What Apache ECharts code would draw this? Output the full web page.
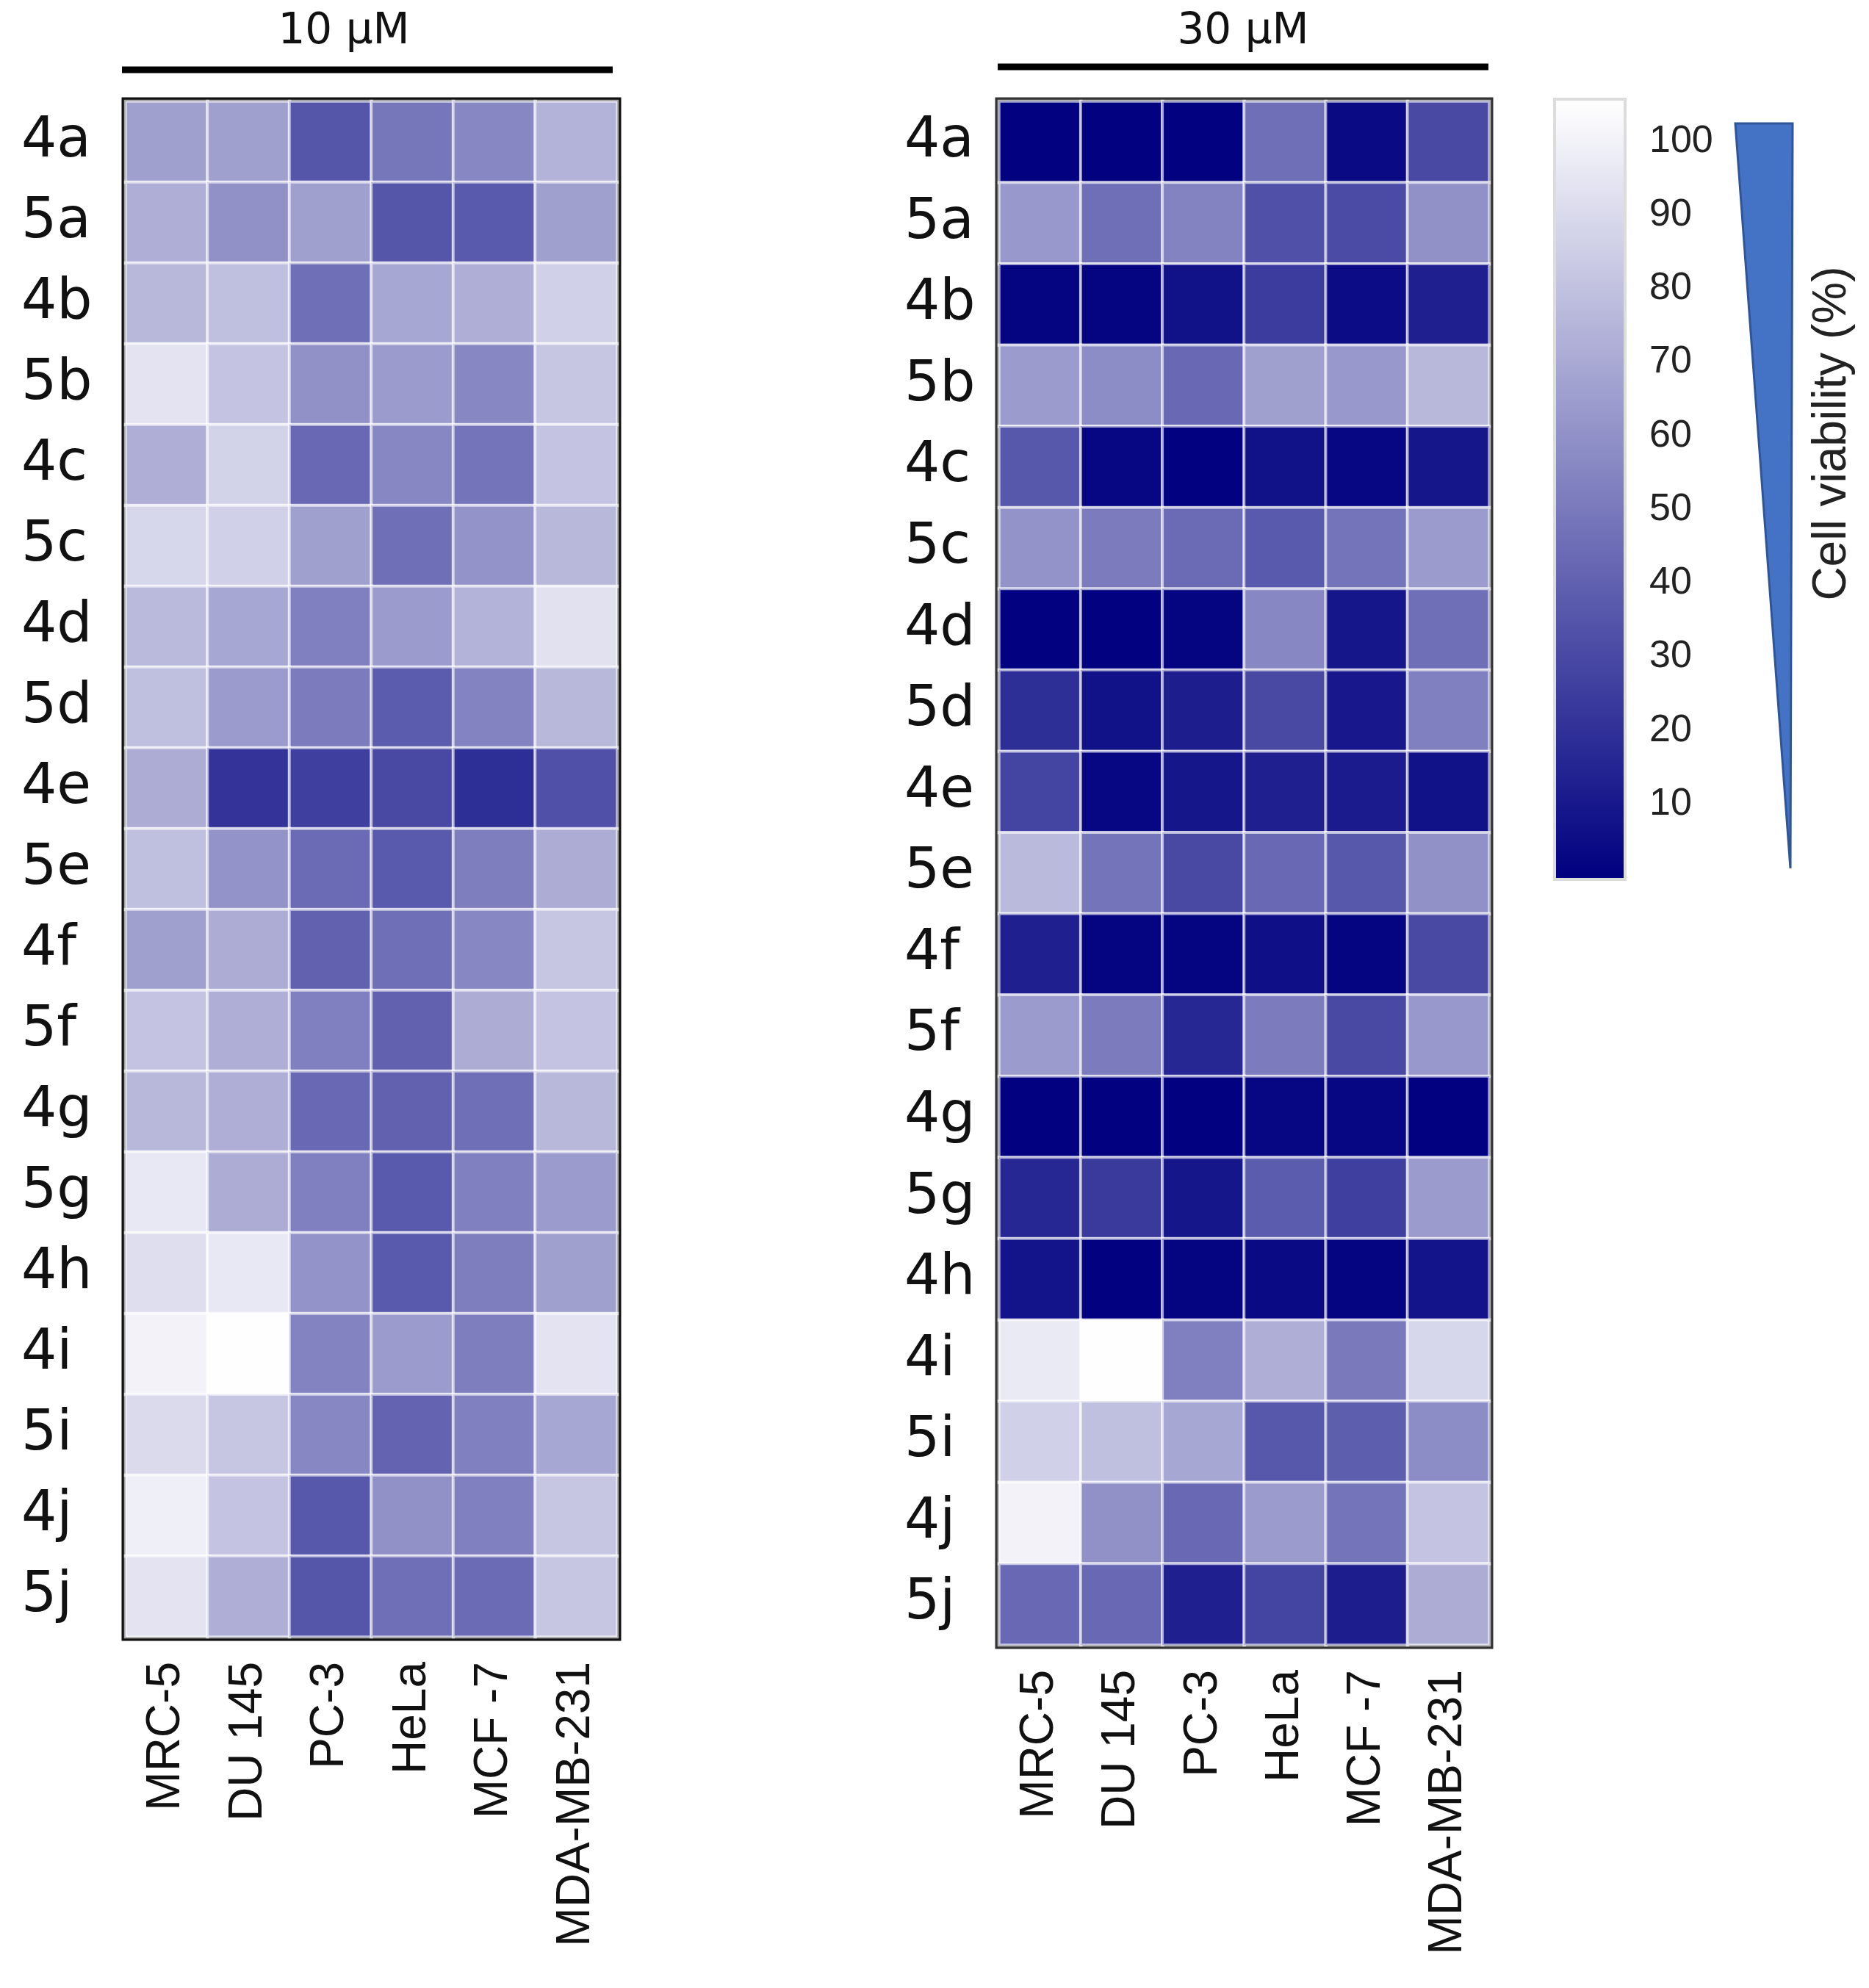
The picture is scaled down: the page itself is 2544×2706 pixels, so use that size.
<!DOCTYPE html>
<html><head><meta charset="utf-8">
<script src="https://cdn.jsdelivr.net/npm/echarts@6/dist/echarts.min.js"></script>
<style>html,body{margin:0;padding:0;background:#fff}#c{width:2544px;height:2706px}</style>
</head><body><div id="c"></div>
<script>
const compounds = ['4a','5a','4b','5b','4c','5c','4d','5d','4e','5e','4f','5f','4g','5g','4h','4i','5i','4j','5j'];
const cellLines = ['MRC-5','DU 145','PC-3','HeLa','MCF -7','MDA-MB-231'];
const panelTitles = ['10 µM', '30 µM'];
const viability10 = [
  [66,66,35,49,56,74],
  [72,60,66,35,37,66],
  [76,79,46,69,72,86],
  [94,81,60,64,56,82],
  [72,87,43,56,48,81],
  [89,86,66,46,61,76],
  [77,69,53,64,74,93],
  [79,64,51,38,54,76],
  [71,21,26,30,19,33],
  [79,61,44,37,52,71],
  [66,71,40,46,56,82],
  [81,72,53,40,71,81],
  [76,72,43,40,46,76],
  [96,71,53,37,53,64],
  [92,96,61,37,52,66],
  [100,105,54,64,52,94],
  [90,82,56,41,53,69],
  [99,81,36,60,53,82],
  [94,72,35,46,44,82]
];
const viability30 = [
  [1,1,1,46,4,30],
  [63,46,54,33,31,60],
  [2,2,7,25,5,13],
  [64,58,43,66,63,76],
  [36,3,1,7,3,9],
  [61,51,44,37,48,64],
  [1,1,2,56,9,46],
  [19,7,12,30,10,53],
  [28,3,9,13,11,7],
  [77,48,30,43,36,60],
  [13,2,2,6,2,30],
  [64,51,16,51,30,63],
  [1,1,1,3,3,1],
  [16,24,9,38,26,64],
  [8,1,2,4,2,8],
  [97,105,53,72,50,89],
  [86,79,69,36,39,58],
  [100,60,43,64,48,81],
  [43,43,13,28,12,71]
];
const scaleMin = 0, scaleMax = 105.5;
const colorbarTicks = [10,20,30,40,50,60,70,80,90,100];
const legendLabel = 'Cell viability (%)';

function toCells(m){ const out=[]; m.forEach((row,r)=>row.forEach((v,c)=>out.push([c,r,v]))); return out; }

const chart = echarts.init(document.getElementById('c'), null, {renderer:'canvas'});
const rowLabel = {fontFamily:'DejaVu Sans', fontSize:76, color:'#111', align:'left'};
const colLabel = {fontFamily:'Liberation Sans', fontSize:64, color:'#111', rotate:90, margin:34, interval:0};
const cellStyle = {borderColor:'rgba(255,255,255,0.62)', borderWidth:4};

const option = {
  backgroundColor:'#fff',
  animation:false,
  grid:[
    {left:171, top:138, width:669, height:2090, show:true, borderColor:'#111', borderWidth:11, backgroundColor:'transparent'},
    {left:1360, top:138, width:667, height:2101, show:true, borderColor:'#333', borderWidth:11, backgroundColor:'transparent'},
    {left:2118, top:137, width:92, height:1058, show:true, borderColor:'#dcdcdc', borderWidth:8, backgroundColor:'transparent'}
  ],
  xAxis:[
    {type:'category', gridIndex:0, data:cellLines, axisLine:{show:false}, axisTick:{show:false}, axisLabel:colLabel, splitLine:{show:false}},
    {type:'category', gridIndex:1, data:cellLines, axisLine:{show:false}, axisTick:{show:false}, axisLabel:colLabel, splitLine:{show:false}},
    {type:'category', gridIndex:2, data:['cb'], show:false}
  ],
  yAxis:[
    {type:'category', gridIndex:0, data:compounds, inverse:true, axisLine:{show:false}, axisTick:{show:false}, axisLabel:Object.assign({margin:142}, rowLabel)},
    {type:'category', gridIndex:1, data:compounds, inverse:true, axisLine:{show:false}, axisTick:{show:false}, axisLabel:Object.assign({margin:129}, rowLabel)},
    {type:'value', gridIndex:2, min:scaleMin, max:scaleMax, position:'left', axisLine:{show:false}, splitLine:{show:false},
      axisTick:{show:true, inside:true, length:14, customValues:colorbarTicks, lineStyle:{color:'#8a8a8a', width:3}},
      axisLabel:{show:false}},
    {type:'value', gridIndex:2, min:scaleMin, max:scaleMax, position:'right', axisLine:{show:false}, splitLine:{show:false},
      axisTick:{show:true, inside:true, length:14, customValues:colorbarTicks, lineStyle:{color:'#8a8a8a', width:3}},
      axisLabel:{show:true, customValues:colorbarTicks, margin:35, fontFamily:'Liberation Sans', fontSize:52, color:'#222'}}
  ],
  visualMap:{type:'continuous', show:false, min:scaleMin, max:scaleMax, seriesIndex:[0,1], inRange:{color:['#000080','#ffffff']}},
  series:[
    {type:'heatmap', xAxisIndex:0, yAxisIndex:0, data:toCells(viability10), itemStyle:cellStyle, emphasis:{disabled:true}},
    {type:'heatmap', xAxisIndex:1, yAxisIndex:1, data:toCells(viability30), itemStyle:cellStyle, emphasis:{disabled:true}},
    {type:'bar', xAxisIndex:2, yAxisIndex:2, data:[scaleMax], barWidth:'100%', silent:true,
      itemStyle:{color:new echarts.graphic.LinearGradient(0,0,0,1,[{offset:0,color:'#ffffff'},{offset:1,color:'#000080'}])}}
  ],
  graphic:[
    {type:'text', x:468, y:44, style:{text:panelTitles[0], font:'58px "DejaVu Sans"', fill:'#111', textAlign:'center', textVerticalAlign:'middle'}},
    {type:'text', x:1692, y:44, style:{text:panelTitles[1], font:'58px "DejaVu Sans"', fill:'#111', textAlign:'center', textVerticalAlign:'middle'}},
    {type:'line', shape:{x1:166, y1:95, x2:834, y2:95}, style:{stroke:'#000', lineWidth:9}},
    {type:'line', shape:{x1:1358, y1:91, x2:2026, y2:91}, style:{stroke:'#000', lineWidth:9}},
    {type:'polygon', shape:{points:[[2362,168],[2440,168],[2437,1182]]}, style:{fill:'#4472C4', stroke:'#2F5597', lineWidth:3}},
    {type:'text', x:2494, y:590, rotation:Math.PI/2, style:{text:legendLabel, font:'64px "Liberation Sans"', fill:'#222', textAlign:'center', textVerticalAlign:'middle'}}
  ]
};
chart.setOption(option);
</script></body></html>
